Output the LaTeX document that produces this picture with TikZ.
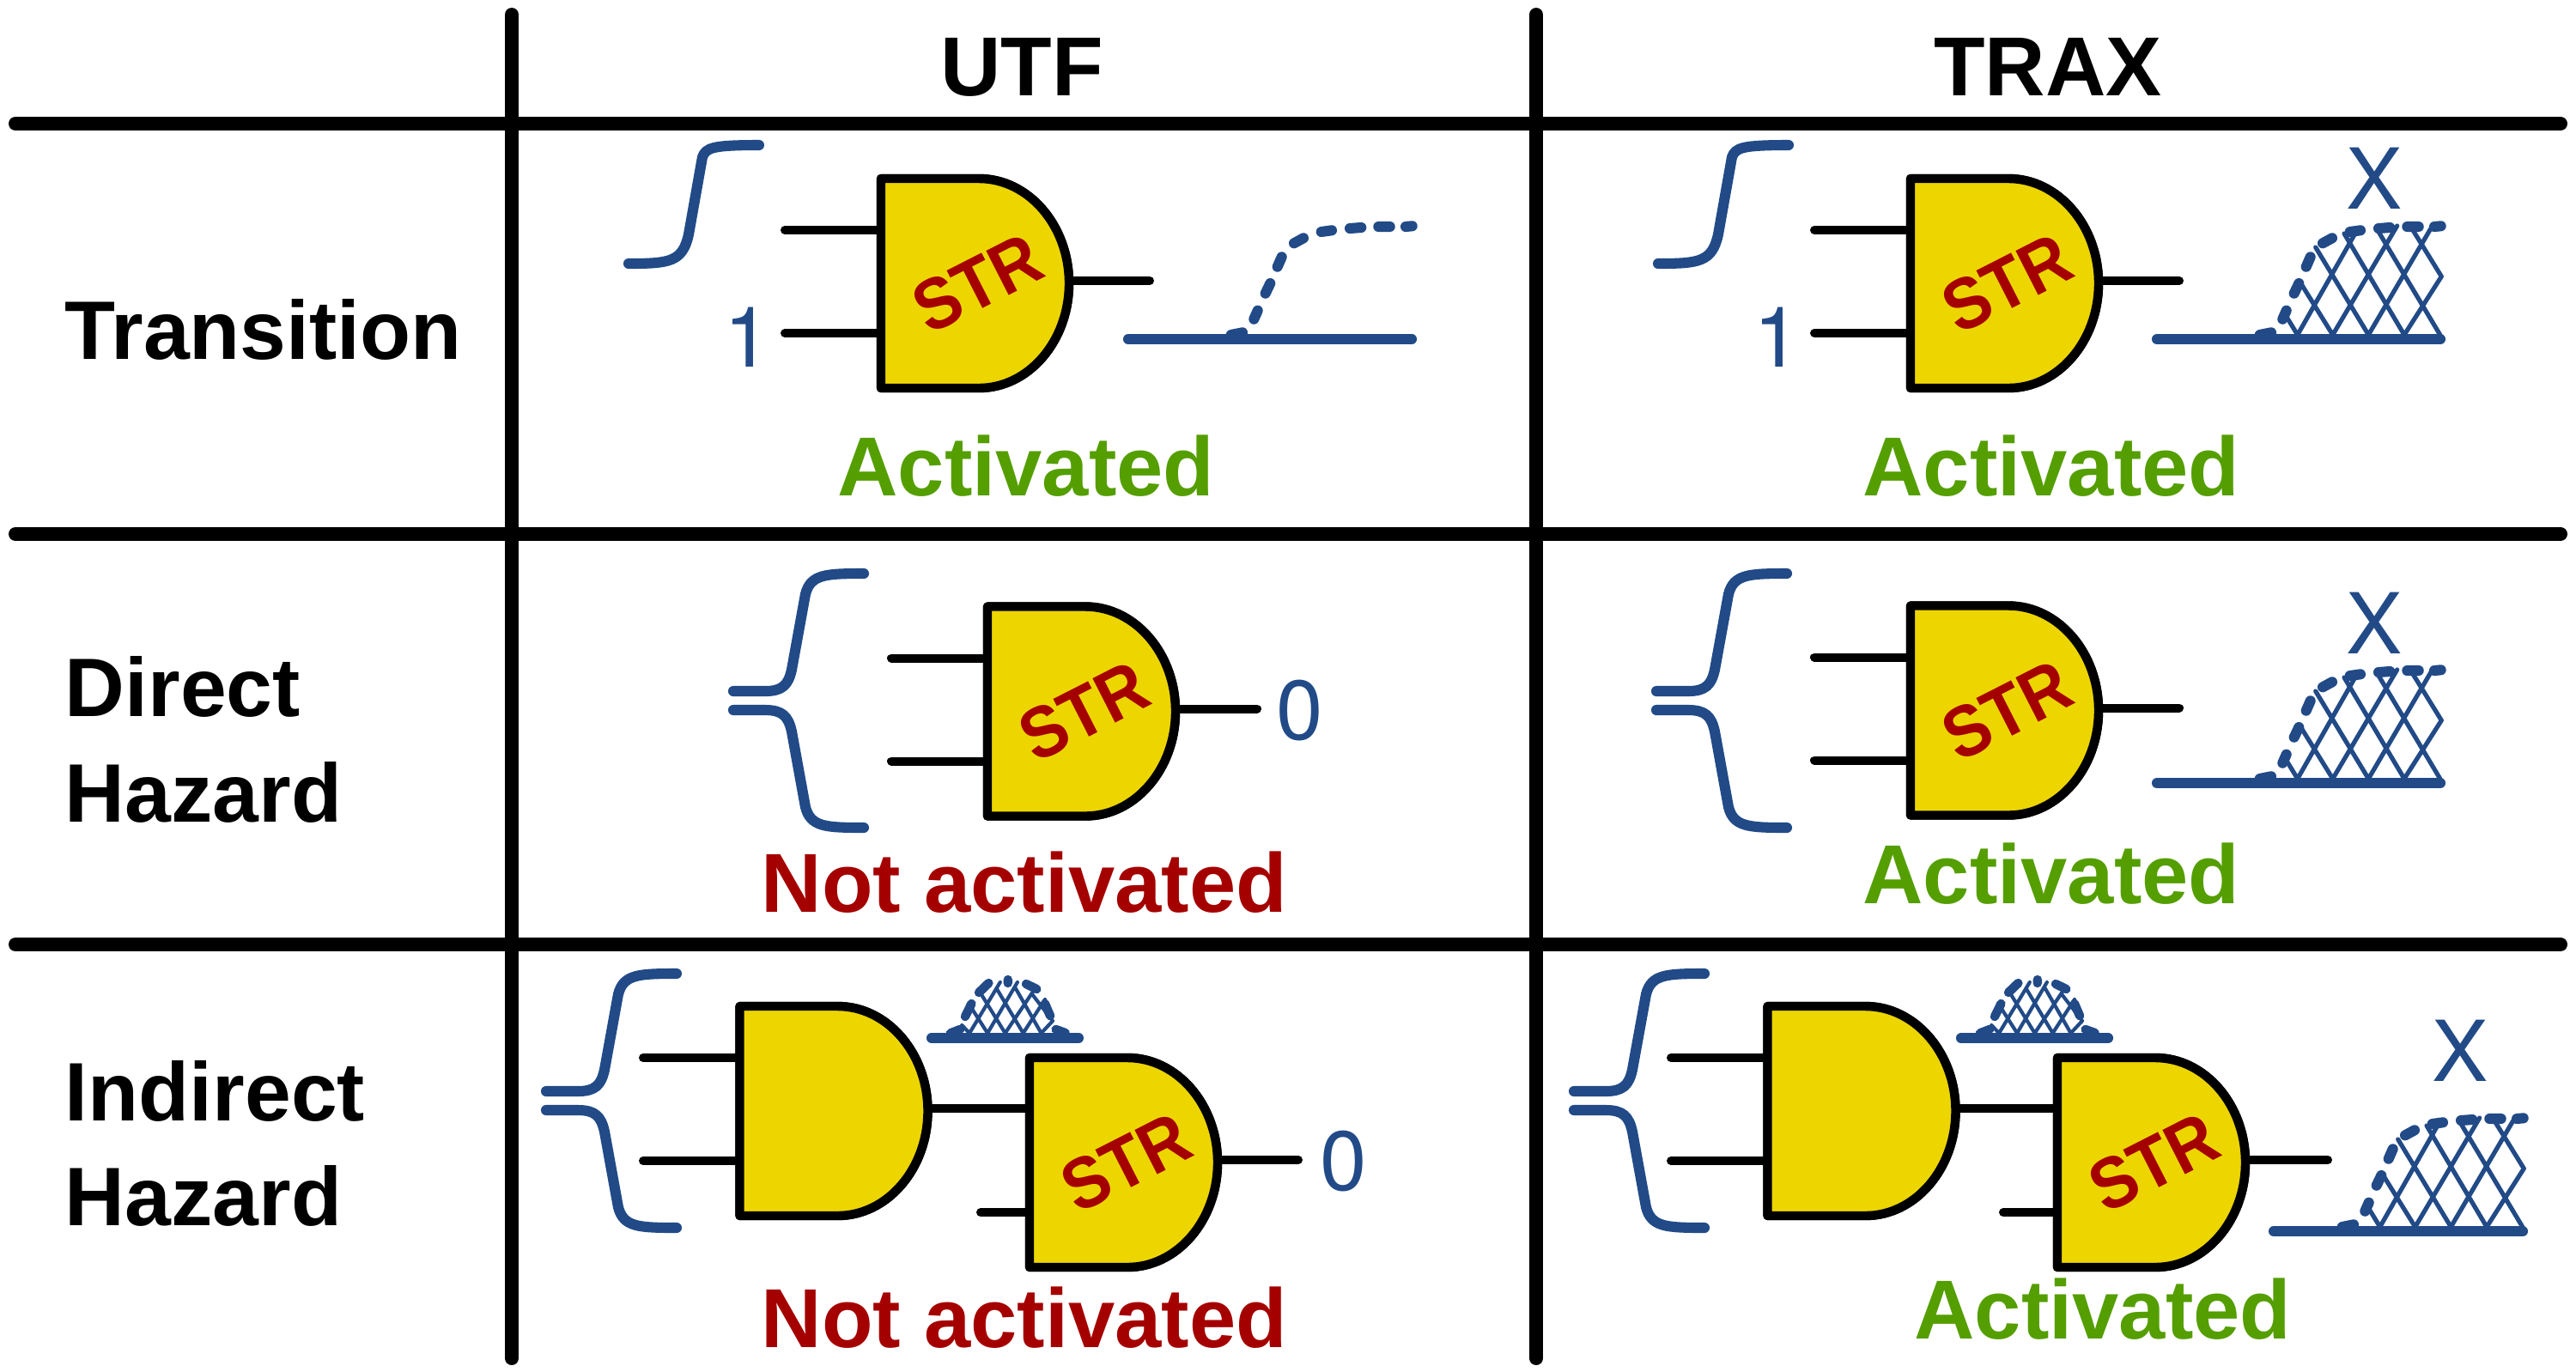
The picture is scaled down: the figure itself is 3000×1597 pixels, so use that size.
\documentclass[tikz,border=0pt]{standalone}
\usepackage{fontspec}
\setmainfont{Liberation Sans}
\newfontfamily\herosfont{TeX Gyre Heros}
\definecolor{wblue}{RGB}{33,74,135}
\definecolor{gyellow}{RGB}{237,213,0}
\definecolor{tred}{RGB}{165,0,0}
\definecolor{tgreen}{RGB}{84,158,0}
\tikzset{
  gridline/.style={line width=3.84pt,line cap=round,black},
  wire/.style={line width=2.4pt,line cap=round,black},
  gatebody/.style={line width=2.5pt,line join=round,draw=black,fill=gyellow},
  wave/.style={line width=2.9pt,line cap=round,line join=round,wblue},
  smalldash/.style={line width=2.5pt,line cap=round,wblue},
  hatch/.style={line width=1.25pt,line cap=round,wblue},
  smallhatch/.style={line width=1pt,line cap=round,wblue},
  lbl/.style={inner sep=0pt,anchor=base,font=\fontsize{23.4}{23.4}\selectfont\bfseries},
  rowlbl/.style={inner sep=0pt,anchor=base west,font=\fontsize{23.2}{23.2}\selectfont\bfseries},
  val/.style={inner sep=0pt,anchor=base,text=wblue,font=\fontsize{23.5}{23.5}\herosfont\selectfont},
  strlbl/.style={inner sep=0pt,text=tred,rotate=27,font=\fontsize{20.2}{20.2}\selectfont\bfseries},
}
% gate: name, x of left side, y of centre
\newcommand{\gatebody}[3]{%
  \begin{scope}[shift={(#2,#3)}]
    \path[gatebody] (0,-122) -- (114,-122)
      .. controls (172,-122) and (219,-67) .. (219,0)
      .. controls (219,67) and (172,122) .. (114,122)
      -- (0,122) -- cycle;
    \coordinate (#1i1) at (0,-62);
    \coordinate (#1i2) at (0,58);
    \coordinate (#1o) at (219,-3);
  \end{scope}}
\newcommand{\strtext}[3]{\node[strlbl] (#1) at (#2+112,#3) {\scalebox{0.92}[1]{STR}};}
% step input, shifted in x
\newcommand{\stepwave}[1]{%
  \draw[wave,shift={(#1,0)}] (732,307) .. controls (780,307) and (795,305) .. (802,273)
    -- (818,183) .. controls (822,172) and (830,169) .. (884,169);}
% brace input at end point (x,y)
\newcommand{\bracewave}[2]{%
  \begin{scope}[shift={(#1,#2)}]
    \draw[wave] (-152,-11) -- (-115,-11) .. controls (-95,-11) and (-88,-18) .. (-84,-36)
      -- (-68,-124) .. controls (-62,-147) and (-45,-148) .. (0,-148);
    \draw[wave] (-152,11) -- (-115,11) .. controls (-95,11) and (-88,18) .. (-84,36)
      -- (-68,124) .. controls (-62,147) and (-45,148) .. (0,148);
  \end{scope}}
% big output wave; the argument is where the base line starts
\newcommand{\dashcurve}[1]{%
  \draw[wave] (119.7,-5) -- (133,-7.7)
    (146.3,-23.3) -- (150.7,-33.3)
    (159.7,-53.3) -- (165.3,-65)
    (173.7,-84.3) -- (178.7,-95.7)
    (193,-111.7) -- (204,-117.7)
    (224.7,-125) -- (237,-126.7)
    (258,-129) -- (271.3,-130)
    (291.3,-131) -- (304.7,-131)
    (323,-131) -- (330.7,-131.7);
  \draw[wave] (#1,0) -- (330,0);}
\newcommand{\latticelines}{%
  \draw[hatch] (163.7,-5) -- (233,-127)
    (204.7,-5) -- (279.7,-132)
    (246.3,-5) -- (321.3,-133)
    (288,-5) -- (331.3,-73)
    (149.7,-28) -- (163.7,-5)
    (166.3,-67) -- (204.7,-5)
    (184.7,-107) -- (246.3,-5)
    (218,-123) -- (288,-5)
    (256.3,-128) -- (329.7,-5)
    (298,-127) -- (331.3,-73);}
\newcommand{\smallwave}[2]{%
  \begin{scope}[shift={(#1,#2)}]
    \draw[smallhatch] (44.1,-5.7) -- (79.8,-65)
      (65.1,-5.7) -- (99.9,-65)
      (85.6,-5.7) -- (120,-57)
      (106.6,-5.7) -- (132,-45)
      (127.6,-5.7) -- (141,-20)
      (35.2,-15) -- (44.1,-5.7)
      (46.4,-35) -- (65.1,-5.7)
      (55.3,-55) -- (85.6,-5.7)
      (75.4,-58) -- (106.6,-5.7)
      (97.7,-58) -- (127.6,-5.7)
      (117.8,-50) -- (141,-20);
    \draw[smalldash] (22,-5.7) -- (33,-10)
      (39,-25) -- (46.4,-40)
      (55,-53) -- (66.4,-64)
      (88.8,-68) -- (88.8,-64)
      (110,-63) -- (122.3,-57)
      (132,-40) -- (138,-26)
      (144.6,-10) -- (155.7,-6);
    \draw[wave] (0,0) -- (171,0);
  \end{scope}}
\begin{document}
\begin{tikzpicture}[x=0.24pt,y=-0.24pt]
\useasboundingbox (0,0) rectangle (3000,1597);
\fill[white] (0,0) rectangle (3000,1597);

% table grid
\coordinate (hl1) at (18,144); \coordinate (hr1) at (2982,144);
\coordinate (hl2) at (18,622); \coordinate (hr2) at (2982,622);
\coordinate (hl3) at (18,1100); \coordinate (hr3) at (2982,1100);
\coordinate (vt1) at (596,17); \coordinate (vb1) at (596,1582);
\coordinate (vt2) at (1789,17); \coordinate (vb2) at (1789,1582);
\draw[gridline] (hl1) -- (hr1);
\draw[gridline] (hl2) -- (hr2);
\draw[gridline] (hl3) -- (hr3);
\draw[gridline] (vt1) -- (vb1);
\draw[gridline] (vt2) -- (vb2);

% headers
\node[lbl] (hUTF) at (1190,111) {UTF};
\node[lbl] (hTRAX) at (2385,111) {TRAX};
\node[rowlbl] (rTrans) at (75,418) {Transition};
\node[rowlbl] (rDir1) at (75,834) {Direct};
\node[rowlbl] (rDir2) at (75,957) {Hazard};
\node[rowlbl] (rInd1) at (75,1305) {Indirect};
\node[rowlbl] (rInd2) at (75,1427) {Hazard};

% --- Row 1 UTF
\stepwave{0}
\gatebody{a}{1026}{330}
\coordinate (aI1) at (914,268); \coordinate (aI2) at (914,388); \coordinate (aO) at (1339,327);
\draw[wire] (aI1) -- (ai1); \draw[wire] (aI2) -- (ai2); \draw[wire] (ao) -- (aO);
\gatebody{a}{1026}{330}
\strtext{sa}{1026}{330}
\node[val] (va) at (871,427) {1};
\begin{scope}[shift={(1314,395)}] \dashcurve{0} \end{scope}
\node[lbl,text=tgreen] (ta) at (1195,577) {Activated};

% --- Row 1 TRAX
\stepwave{1199}
\gatebody{b}{2225}{330}
\coordinate (bI1) at (2113,268); \coordinate (bI2) at (2113,388); \coordinate (bO) at (2538,327);
\draw[wire] (bI1) -- (bi1); \draw[wire] (bI2) -- (bi2); \draw[wire] (bo) -- (bO);
\gatebody{b}{2225}{330}
\strtext{sb}{2225}{330}
\node[val] (vb) at (2070,427) {1};
\node[val] (xb) at (2765,243) {X};
\begin{scope}[shift={(2512,395)}] \latticelines \dashcurve{0} \end{scope}
\node[lbl,text=tgreen] (tb) at (2389,577) {Activated};

% --- Row 2 UTF
\bracewave{1006}{816}
\gatebody{c}{1150}{828.5}
\coordinate (cI1) at (1038,766.5); \coordinate (cI2) at (1038,886.5); \coordinate (cO) at (1464,825.5);
\draw[wire] (cI1) -- (ci1); \draw[wire] (cI2) -- (ci2); \draw[wire] (co) -- (cO);
\gatebody{c}{1150}{828.5}
\strtext{sc}{1150}{828.5}
\node[val] (vc) at (1514,861) {0};
\node[lbl,text=tred] (tc) at (1193,1062) {Not activated};

% --- Row 2 TRAX
\bracewave{2081}{816}
\gatebody{d}{2225}{827.5}
\coordinate (dI1) at (2113,765.5); \coordinate (dI2) at (2113,885.5); \coordinate (dO) at (2538,824.5);
\draw[wire] (dI1) -- (di1); \draw[wire] (dI2) -- (di2); \draw[wire] (do) -- (dO);
\gatebody{d}{2225}{827.5}
\strtext{sd}{2225}{827.5}
\node[val] (xd) at (2765,761) {X};
\begin{scope}[shift={(2512,912)}] \latticelines \dashcurve{0} \end{scope}
\node[lbl,text=tgreen] (td) at (2389,1052) {Activated};

% --- Row 3 UTF
\bracewave{788}{1282}
\smallwave{1085}{1209}
\gatebody{e}{861.5}{1294}
\gatebody{f}{1199}{1354}
\coordinate (eI1) at (749,1232); \coordinate (eI2) at (749,1352);
\coordinate (fI2) at (1142,1412); \coordinate (fO) at (1512,1351);
\draw[wire] (eI1) -- (ei1); \draw[wire] (eI2) -- (ei2);
\draw[wire] (eo) -- (eo -| fi1);
\draw[wire] (fI2) -- (fi2); \draw[wire] (fo) -- (fO);
\gatebody{e}{861.5}{1294}
\gatebody{f}{1199}{1354}
\strtext{sf}{1199}{1354}
\node[val] (vf) at (1565,1386) {0};
\node[lbl,text=tred] (tf) at (1193,1569) {Not activated};

% --- Row 3 TRAX
\bracewave{1985}{1282}
\smallwave{2284}{1209}
\gatebody{g}{2058.5}{1294}
\gatebody{h}{2396}{1354}
\coordinate (gI1) at (1946,1232); \coordinate (gI2) at (1946,1352);
\coordinate (hI2) at (2333,1412); \coordinate (hO) at (2711,1351);
\draw[wire] (gI1) -- (gi1); \draw[wire] (gI2) -- (gi2);
\draw[wire] (go) -- (go -| hi1);
\draw[wire] (hI2) -- (hi2); \draw[wire] (ho) -- (hO);
\gatebody{g}{2058.5}{1294}
\gatebody{h}{2396}{1354}
\strtext{sh}{2396}{1354}
\node[val] (xh) at (2865,1259) {X};
\begin{scope}[shift={(2608,1434)}] \latticelines \dashcurve{40} \end{scope}
\node[lbl,text=tgreen] (th) at (2449,1559) {Activated};
\end{tikzpicture}
\end{document}
